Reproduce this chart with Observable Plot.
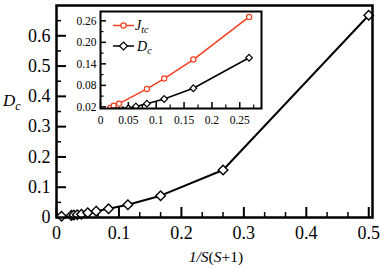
<!DOCTYPE html>
<html><head><meta charset="utf-8">
<script src="https://cdn.jsdelivr.net/npm/d3@7"></script>
<script src="https://cdn.jsdelivr.net/npm/@observablehq/plot@0.6"></script>
<style>
body{margin:0;background:#fff}
#c{position:relative;width:381px;height:269px;overflow:hidden}
#c svg{position:absolute;left:0;top:0}
#c svg text{font-family:"Liberation Serif","DejaVu Serif",serif !important}
</style>
</head><body><div id="c"></div>
<script>
// Main series: D_c vs 1/S(S+1)
const dcX = [0.0080, 0.0238, 0.0278, 0.0333, 0.0400, 0.0500, 0.0635, 0.0833, 0.1143, 0.1667, 0.2667, 0.5000];
const dcY = [0.004, 0.007, 0.008, 0.009, 0.011, 0.016, 0.021, 0.029, 0.042, 0.072, 0.157, 0.668];
// Inset series: J_tc
const jtcX = [0.0175, 0.0238, 0.0333, 0.0833, 0.1143, 0.1667, 0.2667];
const jtcY = [0.017, 0.023, 0.029, 0.070, 0.099, 0.152, 0.271];
// Tick values
const mainXMajor = [0, 0.1, 0.2, 0.3, 0.4, 0.5];
const mainXMinor = [0.0333, 0.0667, 0.1333, 0.1667, 0.2333, 0.2667, 0.3333, 0.3667, 0.4333, 0.4667];
const mainYMajor = [0, 0.1, 0.2, 0.3, 0.4, 0.5, 0.6];
const mainYMinor = [0.05, 0.15, 0.25, 0.35, 0.45, 0.55, 0.65];
const insetXMajor = [0, 0.05, 0.1, 0.15, 0.2, 0.25];
const insetXMinor = [0.025, 0.075, 0.125, 0.175, 0.225, 0.275];
const insetYMajor = [0.02, 0.08, 0.14, 0.20, 0.26];
const insetYMinor = [0.05, 0.11, 0.17, 0.23];
const insetXMax = 0.289;

const red = "#f3401f";
const fam = "Liberation Serif";
const dcData = dcX.map((x, i) => ({x, y: dcY[i]}));
const dcInset = dcData.filter(d => d.x <= insetXMax);
const jtcData = jtcX.map((x, i) => ({x, y: jtcY[i]}));
const fmt = d3.format("~g");

const W = 381, H = 269;
const mL = 56, mR = 9, mT = 5, mB = 52;
const pw = W - mL - mR, ph = H - mT - mB;

const main = Plot.plot({
  width: W, height: H,
  marginLeft: mL, marginRight: mR, marginTop: mT, marginBottom: mB,
  style: {fontFamily: fam, fontSize: "18px", background: "white", color: "black"},
  x: {domain: [0, 0.506]},
  y: {domain: [0, 0.7]},
  marks: [
    Plot.tickX(mainXMajor, {x: d => d, insetTop: ph - 10, stroke: "black", strokeWidth: 2}),
    Plot.tickX(mainXMinor, {x: d => d, insetTop: ph - 5, stroke: "black", strokeWidth: 1.5}),
    Plot.tickY(mainYMajor, {y: d => d, insetRight: pw - 10, stroke: "black", strokeWidth: 2}),
    Plot.tickY(mainYMinor, {y: d => d, insetRight: pw - 5, stroke: "black", strokeWidth: 1.5}),
    Plot.axisX({ticks: mainXMajor, tickSize: 0, tickPadding: 9, fontSize: 18, label: null, tickFormat: fmt}),
    Plot.axisY({ticks: mainYMajor, tickSize: 0, tickPadding: 6, fontSize: 18, label: null, tickFormat: fmt}),
    Plot.line(dcData, {x: "x", y: "y", stroke: "black", strokeWidth: 2}),
    Plot.dot(dcData, {x: "x", y: "y", symbol: "diamond2", r: 4.3, fill: "white", stroke: "black", strokeWidth: 1.4}),
    Plot.frame({stroke: "black", strokeWidth: 2.5})
  ]
});

const iL = 100, iR = W - 261, iT = 11, iB = H - 108;
const ipw = W - iL - iR, iph = H - iT - iB;
const inset = Plot.plot({
  width: W, height: H,
  marginLeft: iL, marginRight: iR, marginTop: iT, marginBottom: iB,
  style: {fontFamily: fam, fontSize: "11.5px", background: "transparent", color: "black", overflow: "visible"},
  x: {domain: [0, insetXMax]},
  y: {domain: [0.0155, 0.286]},
  marks: [
    Plot.frame({fill: "white", stroke: "none"}),
    Plot.tickX(insetXMajor, {x: d => d, insetTop: iph - 6, stroke: "black", strokeWidth: 1.5}),
    Plot.tickX(insetXMinor, {x: d => d, insetTop: iph - 3.5, stroke: "black", strokeWidth: 1.2}),
    Plot.tickY(insetYMajor, {y: d => d, insetRight: ipw - 6, stroke: "black", strokeWidth: 1.5}),
    Plot.tickY(insetYMinor, {y: d => d, insetRight: ipw - 3.5, stroke: "black", strokeWidth: 1.2}),
    Plot.axisX({ticks: insetXMajor, tickSize: 0, tickPadding: 7, fontSize: 11.5, label: null, tickFormat: fmt}),
    Plot.axisY({ticks: insetYMajor, tickSize: 0, tickPadding: 4, fontSize: 11.5, label: null, tickFormat: d3.format(".2f")}),
    Plot.line(jtcData, {x: "x", y: "y", stroke: red, strokeWidth: 1.5, clip: true}),
    Plot.dot(jtcData, {x: "x", y: "y", r: 2.6, fill: "white", stroke: red, strokeWidth: 1.2, clip: true}),
    Plot.line(dcInset, {x: "x", y: "y", stroke: "black", strokeWidth: 1.5, clip: true}),
    Plot.dot(dcInset, {x: "x", y: "y", symbol: "diamond2", r: 3, fill: "white", stroke: "black", strokeWidth: 1.2, clip: true}),
    Plot.frame({stroke: "black", strokeWidth: 2})
  ]
});

const c = document.getElementById("c");
c.appendChild(main);
c.appendChild(inset);

const ns = "http://www.w3.org/2000/svg";
const over = document.createElementNS(ns, "svg");
over.setAttribute("width", W); over.setAttribute("height", H);
over.innerHTML = `
  <text x="3" y="106" font-size="17" font-style="italic">D<tspan font-size="12" dy="4">c</tspan></text>
  <text x="216" y="262" font-size="15.5" text-anchor="middle"><tspan font-style="italic">1/S</tspan>(<tspan font-style="italic">S</tspan>+1)</text>
  <line x1="113" x2="134" y1="25.5" y2="25.5" stroke="${red}" stroke-width="1.5"/>
  <circle cx="123.5" cy="25.5" r="2.6" fill="white" stroke="${red}" stroke-width="1.2"/>
  <text x="135" y="30" font-size="14" font-style="italic">J<tspan font-size="10" dy="3">tc</tspan></text>
  <line x1="113" x2="134" y1="46" y2="46" stroke="black" stroke-width="1.5"/>
  <path d="M123.5,42 L127.5,46 L123.5,50 L119.5,46 Z" fill="white" stroke="black" stroke-width="1.2"/>
  <text x="137" y="51" font-size="14" font-style="italic">D<tspan font-size="10" dy="3">c</tspan></text>
`;
c.appendChild(over);
</script>
</body></html>
